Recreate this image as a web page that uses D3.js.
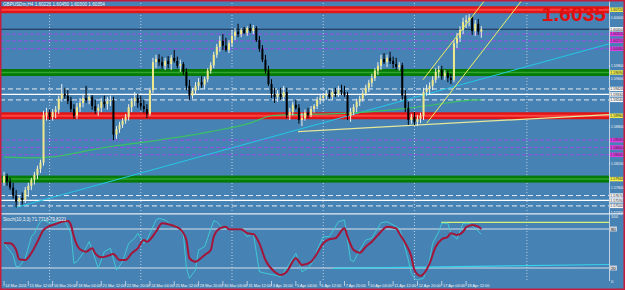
<!DOCTYPE html>
<html>
<head>
<meta charset="utf-8">
<script src="https://cdn.jsdelivr.net/npm/d3@7"></script>
<style>
body { margin: 0; background: #4682b4; }
svg { display: block; }
text { font-family: "Liberation Sans", Arial, sans-serif; }
</style>
</head>
<body>
<div id="chart"></div>
<script>
// H4 candles, bar 0 = 14 Mar 2011
const opens = [1.5788,1.5799,1.5790,1.5780,1.5767,1.5757,1.5763,1.5760,1.5776,1.5783,
1.5793,1.5801,1.5811,1.5821,1.5899,1.5903,1.5896,1.5904,1.5908,1.5926,
1.5934,1.5931,1.5922,1.5909,1.5898,1.5912,1.5919,1.5927,1.5924,1.5929,
1.5914,1.5906,1.5911,1.5921,1.5917,1.5922,1.5924,1.5867,1.5876,1.5883,
1.5890,1.5896,1.5912,1.5922,1.5927,1.5919,1.5914,1.5909,1.5901,1.5940,
1.5986,1.5991,1.5986,1.5980,1.5988,1.5983,1.5993,1.5988,1.5980,1.5983,
1.5970,1.5947,1.5931,1.5939,1.5947,1.5953,1.5949,1.5958,1.5972,1.5981,
1.5998,1.6011,1.6021,1.6013,1.6006,1.6017,1.6029,1.6036,1.6032,1.6039,
1.6034,1.6042,1.6037,1.6042,1.6022,1.6008,1.5990,1.5972,1.5950,1.5934,
1.5929,1.5934,1.5929,1.5937,1.5899,1.5904,1.5916,1.5911,1.5891,1.5894,
1.5903,1.5899,1.5909,1.5914,1.5924,1.5927,1.5931,1.5934,1.5929,1.5937,
1.5934,1.5940,1.5937,1.5932,1.5898,1.5904,1.5912,1.5921,1.5926,1.5935,
1.5944,1.5952,1.5960,1.5972,1.5980,1.5991,1.5986,1.5993,1.5988,1.5983,
1.5978,1.5981,1.5931,1.5911,1.5891,1.5896,1.5888,1.5893,1.5898,1.5937,
1.5942,1.5947,1.5957,1.5970,1.5973,1.5963,1.5968,1.5960,1.5957,1.6017,
1.6026,1.6039,1.6052,1.6055,1.6059,1.6037,1.6049,1.6036];
const highs = [1.5806,1.5803,1.5796,1.5788,1.5776,1.5767,1.5772,1.5781,1.5788,1.5796,
1.5806,1.5816,1.5826,1.5906,1.5911,1.5908,1.5909,1.5914,1.5931,1.5950,
1.5944,1.5940,1.5929,1.5917,1.5919,1.5927,1.5934,1.5947,1.5935,1.5932,
1.5924,1.5917,1.5927,1.5931,1.5929,1.5931,1.5929,1.5881,1.5888,1.5894,
1.5901,1.5917,1.5927,1.5937,1.5934,1.5931,1.5924,1.5917,1.5944,1.5993,
1.5998,1.5999,1.5995,1.5993,1.5996,1.5998,1.6006,1.5995,1.5990,1.5986,
1.5976,1.5957,1.5944,1.5953,1.5960,1.5963,1.5962,1.5976,1.5986,1.6003,
1.6016,1.6029,1.6032,1.6026,1.6022,1.6039,1.6042,1.6049,1.6042,1.6044,
1.6045,1.6049,1.6047,1.6045,1.6029,1.6014,1.5998,1.5980,1.5958,1.5944,
1.5940,1.5944,1.5947,1.5944,1.5911,1.5921,1.5924,1.5917,1.5903,1.5908,
1.5911,1.5914,1.5917,1.5929,1.5932,1.5935,1.5940,1.5940,1.5942,1.5944,
1.5947,1.5949,1.5947,1.5937,1.5911,1.5917,1.5926,1.5931,1.5940,1.5949,
1.5957,1.5967,1.5976,1.5986,1.5998,1.6001,1.5998,1.6003,1.5995,1.5993,
1.5986,1.5985,1.5940,1.5921,1.5901,1.5904,1.5899,1.5903,1.5944,1.5949,
1.5953,1.5963,1.5976,1.5980,1.5980,1.5973,1.5972,1.5967,1.6022,1.6034,
1.6045,1.6059,1.6063,1.6065,1.6062,1.6055,1.6057,1.6045];
const lows = [1.5783,1.5783,1.5776,1.5762,1.5747,1.5749,1.5752,1.5755,1.5765,1.5776,
1.5785,1.5794,1.5804,1.5816,1.5890,1.5891,1.5890,1.5894,1.5901,1.5921,
1.5926,1.5917,1.5904,1.5893,1.5893,1.5904,1.5912,1.5919,1.5917,1.5908,
1.5901,1.5898,1.5904,1.5911,1.5908,1.5914,1.5858,1.5860,1.5870,1.5878,
1.5885,1.5890,1.5904,1.5914,1.5911,1.5908,1.5903,1.5894,1.5898,1.5935,
1.5976,1.5980,1.5975,1.5973,1.5976,1.5973,1.5985,1.5976,1.5970,1.5965,
1.5940,1.5924,1.5926,1.5932,1.5940,1.5944,1.5942,1.5953,1.5967,1.5976,
1.5993,1.6003,1.6006,1.6003,1.6001,1.6011,1.6022,1.6027,1.6027,1.6032,
1.6029,1.6034,1.6032,1.6019,1.6003,1.5986,1.5967,1.5947,1.5927,1.5919,
1.5921,1.5924,1.5922,1.5894,1.5891,1.5899,1.5908,1.5885,1.5881,1.5890,
1.5894,1.5896,1.5903,1.5909,1.5917,1.5921,1.5924,1.5926,1.5924,1.5929,
1.5929,1.5932,1.5929,1.5891,1.5888,1.5899,1.5904,1.5914,1.5921,1.5931,
1.5937,1.5945,1.5955,1.5965,1.5973,1.5983,1.5978,1.5983,1.5976,1.5973,
1.5972,1.5924,1.5904,1.5883,1.5885,1.5883,1.5881,1.5886,1.5891,1.5931,
1.5932,1.5940,1.5952,1.5960,1.5957,1.5957,1.5953,1.5950,1.5953,1.6009,
1.6019,1.6032,1.6042,1.6045,1.6031,1.6029,1.6031,1.6026];
const closes = [1.5799,1.5790,1.5780,1.5767,1.5757,1.5763,1.5760,1.5776,1.5783,1.5793,
1.5801,1.5811,1.5821,1.5899,1.5903,1.5896,1.5904,1.5908,1.5926,1.5934,
1.5931,1.5922,1.5909,1.5898,1.5912,1.5919,1.5927,1.5924,1.5929,1.5914,
1.5906,1.5911,1.5921,1.5917,1.5922,1.5924,1.5867,1.5876,1.5883,1.5890,
1.5896,1.5912,1.5922,1.5927,1.5919,1.5914,1.5909,1.5901,1.5940,1.5986,
1.5991,1.5986,1.5980,1.5988,1.5983,1.5993,1.5988,1.5980,1.5983,1.5970,
1.5947,1.5931,1.5939,1.5947,1.5953,1.5949,1.5958,1.5972,1.5981,1.5998,
1.6011,1.6021,1.6013,1.6006,1.6017,1.6029,1.6036,1.6032,1.6039,1.6034,
1.6042,1.6037,1.6042,1.6022,1.6008,1.5990,1.5972,1.5950,1.5934,1.5929,
1.5934,1.5929,1.5937,1.5899,1.5904,1.5916,1.5911,1.5891,1.5894,1.5903,
1.5899,1.5909,1.5914,1.5924,1.5927,1.5931,1.5934,1.5929,1.5937,1.5934,
1.5940,1.5937,1.5932,1.5898,1.5904,1.5912,1.5921,1.5926,1.5935,1.5944,
1.5952,1.5960,1.5972,1.5980,1.5991,1.5986,1.5993,1.5988,1.5983,1.5978,
1.5981,1.5931,1.5911,1.5891,1.5896,1.5888,1.5893,1.5898,1.5937,1.5942,
1.5947,1.5957,1.5970,1.5973,1.5963,1.5968,1.5960,1.5957,1.6017,1.6026,
1.6039,1.6052,1.6055,1.6059,1.6037,1.6049,1.6036,1.6040];

// moving average (green), sampled at bars
const maBars = [0, 9, 15, 32, 48, 59, 68, 81, 88, 97, 107, 116, 124, 134, 143, 150, 157];
const maVals = [1.5830,1.5829,1.5830,1.5845,1.5856,1.5864,1.5872,1.5886,1.5898,1.5900,1.5901,1.5903,1.5906,1.5911,1.5917,1.5922,1.5924];

// Stochastic(10,3,3)
const stMainBars = [0,3,4,5,7,9,10,11,12,13,15,17,20,22,23,24,26,28,29,31,33,35,37,39,41,43,44,46,47,50,51,53,55,57,59,60,61,63,64,66,69,70,72,74,78,80,82,84,86,89,91,94,96,98,100,102,103,105,107,108,110,112,114,115,117,119,121,124,126,127,130,131,133,134,135,136,138,140,141,143,144,146,147,149,151,153,155,157];
const stMainVals = [58,40,22,22,35,68,73.4,83.5,91.2,93.8,88.8,90.8,92.3,73.4,27.2,29.7,42.6,60.5,47.7,19.5,45,50.3,17,29.7,58,65.7,73.4,58,63,93.8,96.5,93.8,86.2,84.6,70.8,20,4.2,17,47.7,52.8,92.8,91.2,81,79.5,81,68.2,73.4,14.3,11.8,9.2,6.6,27.2,42.6,14.3,19.5,32.3,47.7,68.2,68.2,75.8,91.2,93.8,32.3,29.7,47.7,63,65.7,89.7,91.2,88.8,81,68.2,32.3,11.8,4.2,1.5,4.2,32.3,58,75.8,88.8,88.8,73.4,64.2,88.8,88.8,81,71.8];
const stSigBars = [0,2,4,5,7,9,11,13,15,17,19,21,22,23,25,27,29,30,32,34,36,38,40,42,44,46,47,50,52,55,58,60,61,63,64,66,68,69,71,73,74,78,80,82,84,86,89,91,93,96,98,101,103,105,107,109,112,113,115,117,119,121,124,126,129,130,132,134,135,137,138,140,142,144,146,147,149,151,152,154,156,157];
const stSigVals = [58.5,58,47.7,33.4,32.3,43,60.5,78.5,84.6,87.7,91.2,92.3,86.2,68.2,48.8,45,50.3,42.6,36.5,38.5,41.5,32.3,32.3,42.6,50.3,63,60.5,75.8,88.8,86.2,79.5,63,35,29.7,32.3,40,47.7,68.2,81,83.5,79.5,79.5,73.4,72.3,58,32.3,14.3,9.2,14.3,35,24.6,29.7,42.6,58,64.2,65.7,81,68.2,47.7,43.5,52.8,60.5,75.8,83.5,81,73.4,58,37.4,16.9,7.7,10.8,27.2,52.8,64.2,68.2,73.4,70.8,75.8,82.6,86.2,83.5,79.8];
const stLevels = [80, 20];

// horizontal objects
const redLevels = [1.6072, 1.5898];
const greenLevels = [1.5969, 1.5794];
const purpleLevels = [1.6032, 1.6021, 1.6008, 1.5858, 1.5846, 1.5834];
const whiteDashLevels = [1.5942, 1.5924, 1.5767, 1.5750];
const whiteSolidLevels = [1.5933, 1.5759];
const bidPrice = 1.6040;

// trend lines [bar, price]
const cyanTrend = [[3.6, 1.5747], [199, 1.6016]];
const supportTrend = [[96.7, 1.5872], [199, 1.5900]];
const channelUpper = [[137.8, 1.5957], [163.2, 1.6120]];
const channelLower = [[139.1, 1.5886], [175.4, 1.6120]];
const stochTopLine = [[143.8, 90.3], [199, 90.3]];
const stochLowLine = [[108.2, 19.5], [199, 25.4]];

const gridBars = [15, 45, 75, 105, 135, 172];
const priceTicks = d3.range(0, 18).map(i => 1.5740 + i * 0.002);
const timeLabels = ["14 Mar 2011","15 Mar 12:00","16 Mar 20:00","18 Mar 04:00","21 Mar 12:00","22 Mar 20:00","24 Mar 04:00","25 Mar 12:00","28 Mar 20:00","30 Mar 04:00","31 Mar 12:00","3 Apr 20:00","5 Apr 04:00","6 Apr 12:00","7 Apr 20:00","10 Apr 04:00","11 Apr 12:00","12 Apr 20:00","17 Apr 04:00","18 Apr 12:00"];

const width = 625, height = 290, plotRight = 609;
const svg = d3.select("#chart").append("svg").attr("width", width).attr("height", height);
svg.append("rect").attr("width", width).attr("height", height).attr("fill", "#4682b4");

const x = d3.scaleLinear().domain([0, 157]).range([4, 481.3]);
const y = d3.scaleLinear().domain([1.5740, 1.6088]).range([212, 0]);
const ys = d3.scaleLinear().domain([0, 100]).range([281, 216]);

const defs = svg.append("defs");
defs.append("clipPath").attr("id", "mainClip").append("rect").attr("width", plotRight).attr("height", 212);
defs.append("clipPath").attr("id", "subClip").append("rect").attr("y", 214).attr("width", plotRight).attr("height", 67);

// dotted vertical grid
svg.selectAll("line.grid").data(gridBars).enter().append("line")
  .attr("x1", d => x(d)).attr("x2", d => x(d)).attr("y1", 0).attr("y2", 281)
  .attr("stroke", "#dde5ee").attr("stroke-width", 0.8).attr("stroke-dasharray", "1,2");

const main = svg.append("g").attr("clip-path", "url(#mainClip)");

// bands
redLevels.forEach(p => {
  main.append("rect").attr("x", 0).attr("width", plotRight).attr("y", y(p) - 3.5).attr("height", 7).attr("fill", "#e01616");
  main.append("line").attr("x1", 0).attr("x2", plotRight).attr("y1", y(p)).attr("y2", y(p)).attr("stroke", "#ff4242").attr("stroke-width", 2);
});
greenLevels.forEach(p => {
  main.append("rect").attr("x", 0).attr("width", plotRight).attr("y", y(p) - 3.5).attr("height", 7).attr("fill", "#067a06");
  main.append("line").attr("x1", 0).attr("x2", plotRight).attr("y1", y(p)).attr("y2", y(p)).attr("stroke", "#2fa62f").attr("stroke-width", 1.5);
});
main.selectAll("line.purple").data(purpleLevels).enter().append("line")
  .attr("x1", 0).attr("x2", plotRight).attr("y1", d => y(d)).attr("y2", d => y(d))
  .attr("stroke", "#9a4ce6").attr("stroke-width", 1).attr("stroke-dasharray", "4,2");
main.selectAll("line.wdash").data(whiteDashLevels).enter().append("line")
  .attr("x1", 0).attr("x2", plotRight).attr("y1", d => y(d)).attr("y2", d => y(d))
  .attr("stroke", "#e6edf4").attr("stroke-width", 1).attr("stroke-dasharray", "5,3");
main.selectAll("line.wsolid").data(whiteSolidLevels).enter().append("line")
  .attr("x1", 0).attr("x2", plotRight).attr("y1", d => y(d)).attr("y2", d => y(d))
  .attr("stroke", "#ffffff").attr("stroke-width", 1.2);
main.append("line").attr("x1", 0).attr("x2", plotRight).attr("y1", y(bidPrice)).attr("y2", y(bidPrice))
  .attr("stroke", "#1c2d4c").attr("stroke-width", 1);

// trend lines
const tl = d3.line().x(d => x(d[0])).y(d => y(d[1]));
main.append("path").attr("d", tl(cyanTrend)).attr("fill", "none").attr("stroke", "#25c8e6").attr("stroke-width", 1);
main.append("path").attr("d", tl(supportTrend)).attr("fill", "none").attr("stroke", "#e4e69a").attr("stroke-width", 1.2);

// moving average
const maLine = d3.line().x((d, i) => x(maBars[i])).y(d => y(d)).curve(d3.curveMonotoneX);
main.append("path").attr("d", maLine(maVals)).attr("fill", "none").attr("stroke", "#3cc064").attr("stroke-width", 1.2);

// candles
const idx = d3.range(closes.length);
main.selectAll("line.wick").data(idx).enter().append("line")
  .attr("x1", i => x(i)).attr("x2", i => x(i)).attr("y1", i => y(highs[i])).attr("y2", i => y(lows[i]))
  .attr("stroke", i => closes[i] >= opens[i] ? "#eef0e8" : "#000").attr("stroke-width", 1);
main.selectAll("rect.body").data(idx).enter().append("rect")
  .attr("x", i => x(i) - 1).attr("width", 2)
  .attr("y", i => y(Math.max(opens[i], closes[i])))
  .attr("height", i => Math.max(1, Math.abs(y(opens[i]) - y(closes[i]))))
  .attr("fill", i => closes[i] >= opens[i] ? "#f0e98c" : "#000");

main.append("path").attr("d", tl(channelUpper)).attr("fill", "none").attr("stroke", "#eef066").attr("stroke-width", 1);
main.append("path").attr("d", tl(channelLower)).attr("fill", "none").attr("stroke", "#eef066").attr("stroke-width", 1);

// big price label
svg.append("text").attr("x", 606).attr("y", 21).attr("text-anchor", "end")
  .attr("font-size", 21).attr("font-weight", "bold").attr("fill", "#e01010").text("1.6035");

svg.append("text").attr("x", 3).attr("y", 5.5).attr("font-size", 4.6).attr("fill", "#f2f2f2")
  .text("GBPUSDm,H4 1.60221 1.60450 1.60300 1.60354");

// window separator
svg.append("line").attr("x1", 0).attr("x2", 623).attr("y1", 213.8).attr("y2", 213.8).attr("stroke", "#e4ebf2").attr("stroke-width", 1.3);

// stochastic window
const sub = svg.append("g").attr("clip-path", "url(#subClip)");
sub.selectAll("line.lvl").data(stLevels).enter().append("line")
  .attr("x1", 0).attr("x2", plotRight).attr("y1", d => ys(d)).attr("y2", d => ys(d))
  .attr("stroke", "#d6e0ea").attr("stroke-width", 1);
const stl = d3.line().x(d => x(d[0])).y(d => ys(d[1]));
sub.append("path").attr("d", stl(stochLowLine)).attr("fill", "none").attr("stroke", "#38d2ea").attr("stroke-width", 1.2);
sub.append("path").attr("d", stl(stochTopLine)).attr("fill", "none").attr("stroke", "#d6f274").attr("stroke-width", 1.2);
const mainSt = d3.line().x((d, i) => x(stMainBars[i])).y(d => ys(d));
const sigSt = d3.line().x((d, i) => x(stSigBars[i])).y(d => ys(d)).curve(d3.curveMonotoneX);
sub.append("path").attr("d", mainSt(stMainVals)).attr("fill", "none").attr("stroke", "#3fd0d6").attr("stroke-width", 0.9);
sub.append("path").attr("d", sigSt(stSigVals)).attr("fill", "none").attr("stroke", "#a3163a").attr("stroke-width", 2);
svg.append("text").attr("x", 3).attr("y", 221).attr("font-size", 4.6).attr("fill", "#f2f2f2")
  .text("Stoch(10,3,3) 71.7718 79.8221");

// price axis: coloured boxes for objects, plain ticks elsewhere
const boxes = [];
redLevels.concat(greenLevels).forEach(p => boxes.push([p, "#f2f04a"]));
purpleLevels.forEach(p => boxes.push([p, "#e23ee6"]));
whiteDashLevels.concat(whiteSolidLevels, [bidPrice]).forEach(p => boxes.push([p, "#f4f6f8"]));
const freeTicks = priceTicks.filter(t => boxes.every(b => Math.abs(y(t) - y(b[0])) > 5));

svg.append("line").attr("x1", plotRight + 0.5).attr("x2", plotRight + 0.5).attr("y1", 0).attr("y2", 281)
  .attr("stroke", "#dfe6ee").attr("stroke-width", 0.8);
const axis = svg.append("g").attr("transform", `translate(${plotRight},0)`)
  .call(d3.axisRight(y).tickValues(freeTicks).tickFormat(d3.format(".5f")).tickSize(1).tickPadding(0.8));
axis.select(".domain").remove();
axis.selectAll("line").attr("stroke", "#e6edf4");
axis.selectAll("text").attr("fill", "#f4f4f4").attr("font-size", 3.6).attr("font-family", "Liberation Sans, Arial, sans-serif");

const bx = svg.selectAll("g.box").data(boxes).enter().append("g");
bx.append("rect").attr("x", plotRight + 1).attr("width", 13).attr("y", d => y(d[0]) - 2.2).attr("height", 4.4).attr("fill", d => d[1]);
bx.append("text").attr("x", plotRight + 1.3).attr("y", d => y(d[0]) + 1.3).attr("font-size", 3.5).attr("fill", "#222")
  .text(d => d3.format(".5f")(d[0]));

// stochastic axis
[[100, null], [80, "#c9d0d8"], [20, "#c9d0d8"], [0, null]].forEach(([v, c]) => {
  if (c) svg.append("rect").attr("x", plotRight + 1).attr("width", 7).attr("y", ys(v) - 2.5).attr("height", 5).attr("fill", c);
  svg.append("text").attr("x", plotRight + 2).attr("y", ys(v) + 1.6).attr("font-size", 4.2)
    .attr("fill", c ? "#222" : "#f4f4f4").text(v);
});

// time axis
const tk = svg.selectAll("g.tick-t").data(timeLabels).enter().append("g");
tk.append("line").attr("x1", (d, i) => x(i * 8)).attr("x2", (d, i) => x(i * 8)).attr("y1", 281).attr("y2", 286)
  .attr("stroke", "#e6edf4").attr("stroke-width", 0.7);
tk.append("text").attr("x", (d, i) => x(i * 8) + 1.2).attr("y", 286.5).attr("font-size", 3.9).attr("fill", "#f4f4f4").text(d => d);

// window frame
svg.append("rect").attr("x", 0.75).attr("y", 0.75).attr("width", width - 1.5).attr("height", height - 1.5)
  .attr("fill", "none").attr("stroke", "#c41c3a").attr("stroke-width", 1.5);
</script>
</body>
</html>
